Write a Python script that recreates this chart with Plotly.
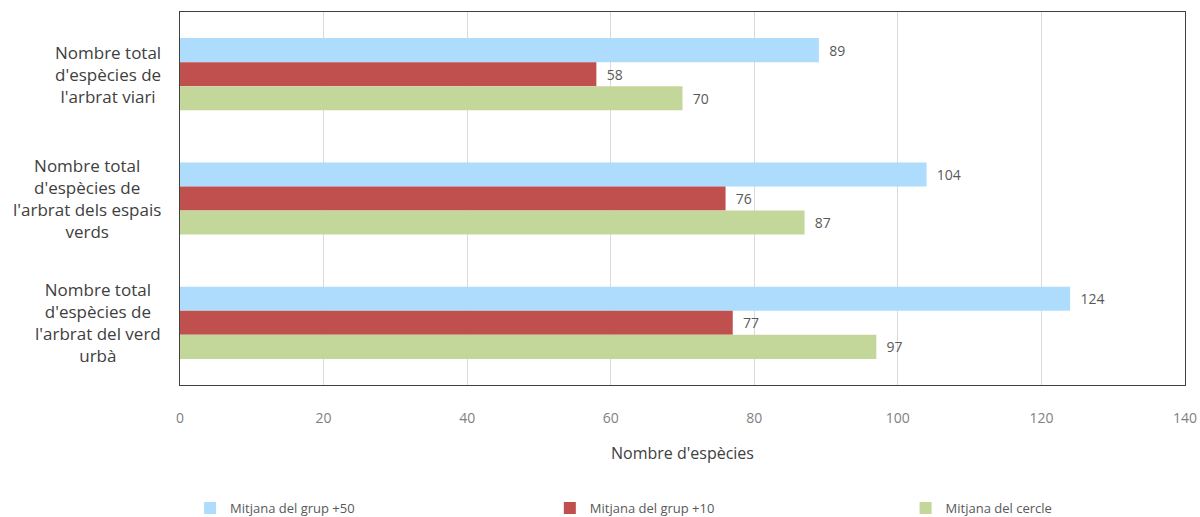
import plotly.graph_objects as go

categories = ["Nombre total<br>d'espècies de<br>l'arbrat viari",
              "Nombre total<br>d'espècies de<br>l'arbrat dels espais<br>verds",
              "Nombre total<br>d'espècies de<br>l'arbrat del verd<br>urbà"]
cat_keys = ["viari", "espais", "verd"]
series_names = ["Mitjana del grup +50", "Mitjana del grup +10", "Mitjana del cercle"]
values_g50 = [89, 104, 124]
values_g10 = [58, 76, 77]
values_cercle = [70, 87, 97]
colors = ["#aedcfd", "#c0504d", "#c4d79b"]
x_ticks = [0, 20, 40, 60, 80, 100, 120, 140]

FONT = "Open Sans"
legend_ids = ["legend", "legend2", "legend3"]
legend_x = [0.01, 0.368, 0.722]

fig = go.Figure()
for name, vals, col, lid in zip(series_names, [values_g50, values_g10, values_cercle], colors, legend_ids):
    fig.add_trace(go.Bar(
        y=cat_keys, x=vals, name=name, orientation="h",
        marker=dict(color=col, line=dict(width=0)),
        text=[str(v) for v in vals], texttemplate="  %{text}", textposition="outside",
        textfont=dict(family=FONT, size=14, color="#595959"),
        cliponaxis=False, legend=lid,
    ))

for key, lab in zip(cat_keys, categories):
    fig.add_annotation(x=-0.017, xref="paper", y=key, yref="y", text=lab,
                       showarrow=False, xanchor="right", align="center",
                       font=dict(family=FONT, size=17, color="#404040"))

legend_style = dict(orientation="h", y=-0.33, xanchor="left", yanchor="middle",
                    font=dict(family=FONT, size=13, color="#595959"),
                    itemwidth=30, bgcolor="rgba(0,0,0,0)")

fig.update_layout(
    width=1200, height=517,
    margin=dict(l=180, r=15, t=12, b=132, autoexpand=False),
    barmode="group", bargap=0.42, bargroupgap=0,
    plot_bgcolor="white", paper_bgcolor="white",
    font=dict(family=FONT, color="#595959"),
    xaxis=dict(range=[0, 140], tickvals=x_ticks, showgrid=True, gridcolor="#d9d9d9",
               gridwidth=1, zeroline=False, showline=True, linecolor="#404040", linewidth=1,
               mirror=True, ticks="", ticklabelstandoff=20,
               tickfont=dict(family=FONT, size=14, color="#7f7f7f"),
               title=dict(text="Nombre d'espècies", standoff=22,
                          font=dict(family=FONT, size=16, color="#404040"))),
    yaxis=dict(autorange="reversed", showticklabels=False, showline=True,
               linecolor="#404040", linewidth=1, mirror=True, ticks="", showgrid=False),
    legend=dict(x=legend_x[0], **legend_style),
    legend2=dict(x=legend_x[1], **legend_style),
    legend3=dict(x=legend_x[2], **legend_style),
    showlegend=True,
)
fig.write_html("out.html", config={"displayModeBar": False},
               post_script="document.body.style.margin='0';")
